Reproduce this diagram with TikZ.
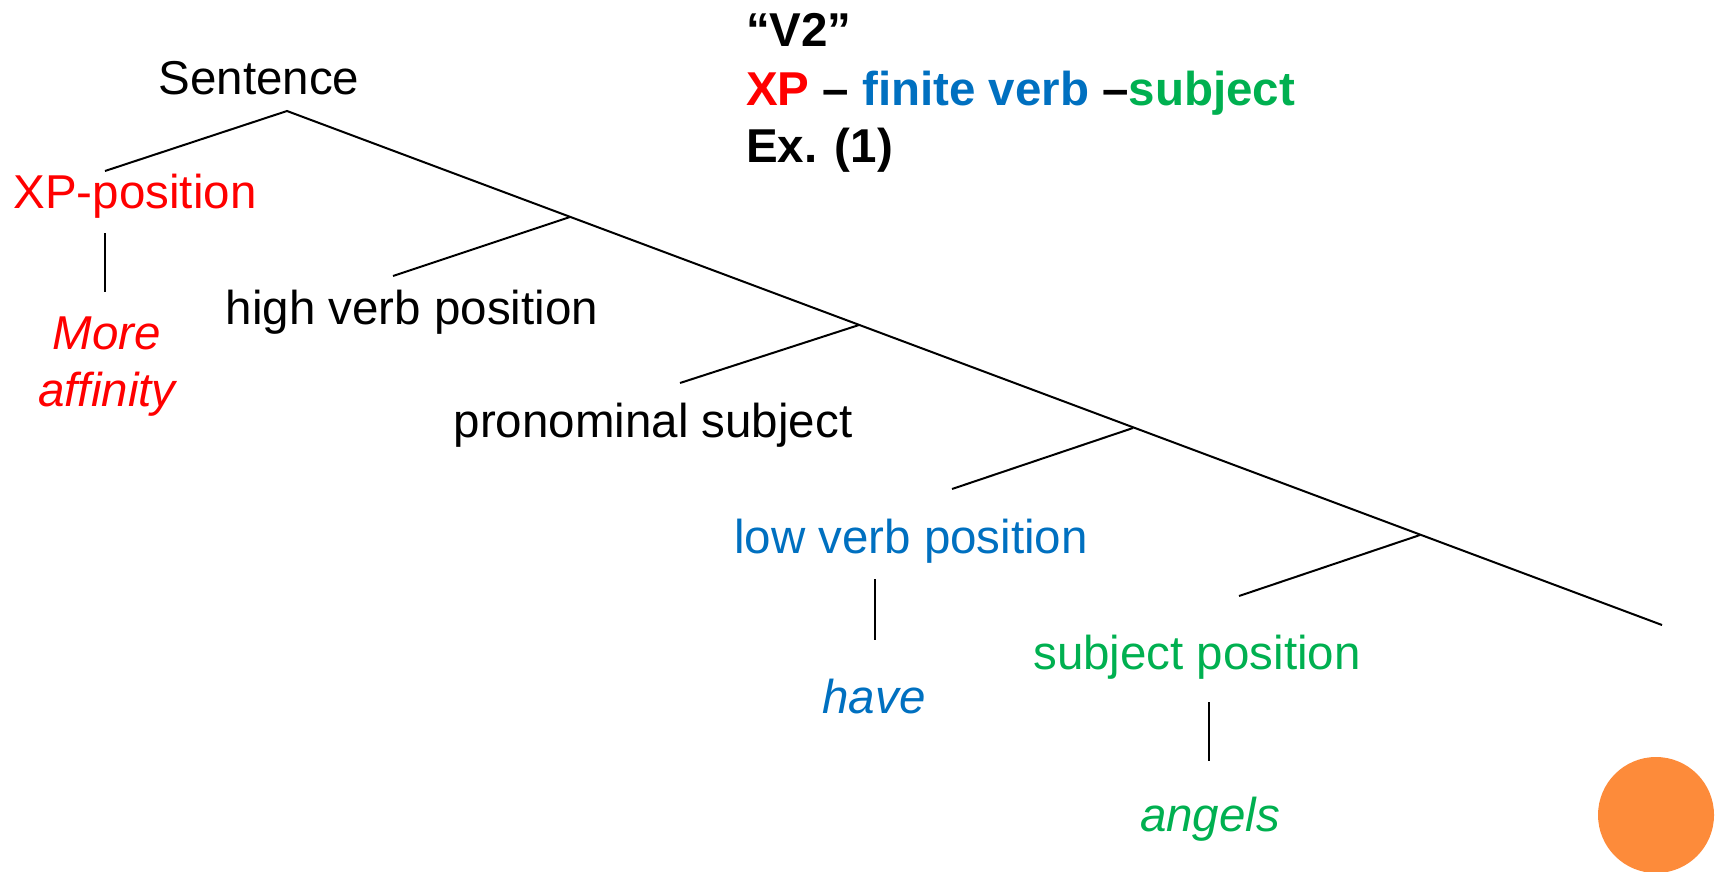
\documentclass[tikz,border=0pt]{standalone}
\usepackage{fontspec}
\setmainfont{Liberation Sans}
\definecolor{tred}{RGB}{255,0,0}
\definecolor{tblue}{RGB}{0,112,192}
\definecolor{tgreen}{RGB}{0,176,80}
\definecolor{torange}{RGB}{253,139,58}
\begin{document}
\begin{tikzpicture}[x=1pt,y=-1pt,
  lbl/.style={inner sep=0pt,outer sep=0pt,anchor=base,font=\fontsize{47.5}{57}\selectfont},
  ttl/.style={inner sep=0pt,outer sep=0pt,anchor=base west,font=\fontsize{47.5}{57}\selectfont\bfseries},
  branch/.style={line width=2pt,black},
  stem/.style={line width=1.6pt,black}]
\useasboundingbox (0,0) rectangle (1720,871);
% title
\node[ttl] (t1) at (746,46) {“V2”};
\node[ttl] (t2) at (746,105) {\textcolor{tred}{XP} – \textcolor{tblue}{finite verb} –\textcolor{tgreen}{subject}};
\node[ttl] (t3) at (746,162) {Ex. (1)};
% labels
\node[lbl] (s) at (259,94) {Sentence};
\node[lbl,text=tred] (xp) at (135,208) {XP-position};
\node[lbl,text=tred,font=\fontsize{47.5}{57}\selectfont\itshape] (more) at (107,349) {More};
\node[lbl,text=tred,font=\fontsize{47.5}{57}\selectfont\itshape] (aff) at (107,406) {affinity};
\node[lbl] (hv) at (412,324) {high verb position};
\node[lbl] (ps) at (653,437) {pronominal subject};
\node[lbl,text=tblue] (lv) at (911,553) {low verb position};
\node[lbl,text=tblue,font=\fontsize{47.5}{57}\selectfont\itshape] (have) at (874,713) {have};
\node[lbl,text=tgreen] (sp) at (1197,669) {subject position};
\node[lbl,text=tgreen,font=\fontsize{47.5}{57}\selectfont\itshape] (ang) at (1210,831) {angels};
% tree coordinates
\coordinate (apex) at (287,111);
\coordinate (xpend) at (105,171);
\coordinate (b1) at (570,217);
\coordinate (b2) at (859,325);
\coordinate (b3) at (1133,428);
\coordinate (b4) at (1420,535);
\coordinate (mend) at (1662,625);
\coordinate (l1) at (393,276);
\coordinate (l2) at (680,383);
\coordinate (l3) at (952,489);
\coordinate (l4) at (1239,596);
\coordinate (v1a) at (105,233);
\coordinate (v1b) at (105,292);
\coordinate (v2a) at (875,579);
\coordinate (v2b) at (875,640);
\coordinate (v3a) at (1209,702);
\coordinate (v3b) at (1209,761);
% branches
\draw[branch] (xpend) -- (apex) -- (mend);
\draw[branch] (l1) -- (b1);
\draw[branch] (l2) -- (b2);
\draw[branch] (l3) -- (b3);
\draw[branch] (l4) -- (b4);
\draw[stem] (v1a) -- (v1b);
\draw[stem] (v2a) -- (v2b);
\draw[stem] (v3a) -- (v3b);
% orange dot
\fill[torange] (1656,815) circle (58);
\end{tikzpicture}
\end{document}
